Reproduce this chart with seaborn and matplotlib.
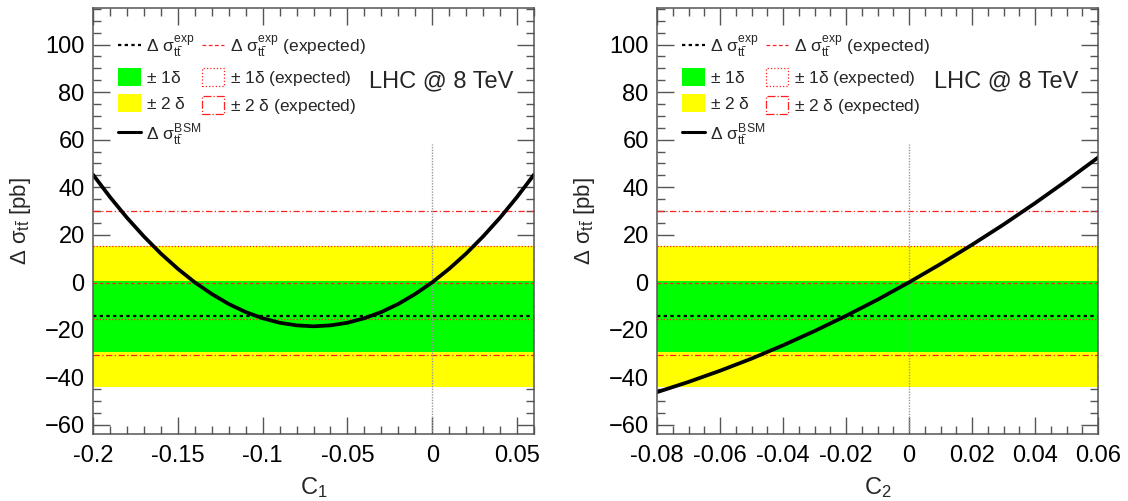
import matplotlib
matplotlib.use("Agg")
import matplotlib.pyplot as plt
import seaborn as sns
import pandas as pd
from matplotlib.lines import Line2D
from matplotlib.patches import Patch
from matplotlib.ticker import MultipleLocator

# ---------------- data ----------------
c1 = [-0.20, -0.19, -0.18, -0.17, -0.16, -0.15, -0.14, -0.13, -0.12, -0.11,
      -0.10, -0.09, -0.08, -0.07, -0.06, -0.05, -0.04, -0.03, -0.02, -0.01,
      0.00, 0.01, 0.02, 0.03, 0.04, 0.05, 0.06]
bsm1 = [45.3, 35.9, 27.2, 19.3, 12.1, 5.7, 0.0, -4.9, -9.1, -12.5,
        -15.1, -17.0, -18.1, -18.5, -18.1, -17.0, -15.1, -12.5, -9.1, -4.9,
        0.0, 5.7, 12.1, 19.3, 27.2, 35.9, 45.3]

c2 = [-0.08, -0.07, -0.06, -0.05, -0.04, -0.03, -0.02, -0.01,
      0.00, 0.01, 0.02, 0.03, 0.04, 0.05, 0.06]
bsm2 = [-46.2, -41.9, -37.2, -32.1, -26.5, -20.5, -14.1, -7.3,
        0.0, 7.7, 15.8, 24.3, 33.3, 42.7, 52.5]

obs_center = -14.3
obs_1d = [-29.5, 0.5]
obs_2d = [-44.0, 15.3]
exp_center = -0.3
exp_1d = [-15.6, 15.3]
exp_2d = [-30.6, 29.8]
vline_top = 58.0

panels = [
    dict(x=c1, y=bsm1, xlim=(-0.2, 0.06), major=0.05, minor=0.01,
         xlabel=r"$\mathrm{C_1}$", ticks=[-0.2, -0.15, -0.1, -0.05, 0, 0.05],
         ticklabels=["-0.2", "-0.15", "-0.1", "-0.05", "0", "0.05"],
         left=93, text_x=0.0476),
    dict(x=c2, y=bsm2, xlim=(-0.08, 0.06), major=0.02, minor=0.005,
         xlabel=r"$\mathrm{C_2}$",
         ticks=[-0.08, -0.06, -0.04, -0.02, 0, 0.02, 0.04, 0.06],
         ticklabels=["-0.08", "-0.06", "-0.04", "-0.02", "0", "0.02", "0.04", "0.06"],
         left=657, text_x=0.0537),
]
ylim = (-63.8, 115.4)
yticks = [-60, -40, -20, 0, 20, 40, 60, 80, 100]

# ---------------- style ----------------
sns.set_theme(style="white")
plt.rcParams["font.family"] = ["Liberation Sans", "DejaVu Sans"]
plt.rcParams["mathtext.fontset"] = "custom"
plt.rcParams["mathtext.rm"] = "Liberation Sans"
plt.rcParams["mathtext.it"] = "Liberation Sans"
plt.rcParams["mathtext.bf"] = "Liberation Sans:bold"
plt.rcParams["mathtext.sf"] = "Liberation Sans"

W, H = 1128, 501
fig = plt.figure(figsize=(W / 100, H / 100), dpi=100)
frame_col = "#555555"
red = "#ff2020"

for p in panels:
    ax = fig.add_axes([p["left"] / W, 67 / H, 441 / W, 426 / H])
    ax.set_xlim(*p["xlim"])
    ax.set_ylim(*ylim)

    # bands
    ax.axhspan(obs_2d[0], obs_2d[1], color="#ffff00", lw=0, zorder=1)
    ax.axhspan(obs_1d[0], obs_1d[1], color="#00ff00", lw=0, zorder=2)
    ax.axhline(obs_center, color="black", ls=(0, (1.5, 1.5)), lw=1.6, zorder=4)
    # expected
    ax.axhline(exp_center, color=red, ls=(0, (3, 2)), lw=0.9, zorder=3)
    for v in exp_1d:
        ax.axhline(v, color=red, ls=(0, (1, 1.5)), lw=0.9, zorder=3)
    for v in exp_2d:
        ax.axhline(v, color=red, ls=(0, (5, 2, 1, 2)), lw=0.9, zorder=3)
    ax.vlines(0, ylim[0], vline_top, colors="#999999", linestyles=(0, (1, 1)),
              lw=1.0, zorder=3)

    df = pd.DataFrame({"c": p["x"], "d": p["y"]})
    sns.lineplot(data=df, x="c", y="d", ax=ax, color="black", lw=2.7,
                 zorder=6, legend=False)

    ax.set_xticks(p["ticks"])
    ax.set_xticklabels(p["ticklabels"])
    ax.set_yticks(yticks)
    ax.xaxis.set_minor_locator(MultipleLocator(p["minor"]))
    ax.yaxis.set_minor_locator(MultipleLocator(5))
    ax.tick_params(which="both", direction="in", top=True, right=True,
                   bottom=True, left=True, color=frame_col, width=1.0,
                   labelsize=17, labelcolor="black")
    ax.tick_params(axis="x", which="major", pad=8)
    ax.tick_params(axis="y", which="major", pad=6)
    ax.tick_params(which="major", length=12)
    ax.tick_params(which="minor", length=6)
    for s in ax.spines.values():
        s.set_color(frame_col)
        s.set_linewidth(1.1)
        s.set_zorder(10)

    ax.set_xlabel(p["xlabel"], fontsize=17, labelpad=6)
    ax.set_ylabel(r"$\Delta\ \sigma_{t\bar{t}}$ [pb]", fontsize=16, labelpad=8)

    ax.text(p["text_x"], 84.6, "LHC @ 8 TeV", ha="right", va="center",
            fontsize=17, zorder=7)

    handles = [
        Line2D([], [], color="black", ls=(0, (1.5, 1.5)), lw=1.6),
        Patch(facecolor="#00ff00", edgecolor="none"),
        Patch(facecolor="#ffff00", edgecolor="none"),
        Line2D([], [], color="black", lw=2.2),
        Line2D([], [], color=red, ls=(0, (3, 2)), lw=0.9),
        Patch(facecolor="none", edgecolor=red, ls=":", lw=0.9),
        Patch(facecolor="none", edgecolor=red, ls="-.", lw=0.9),
    ]
    labels = [
        r"$\Delta\ \sigma_{t\bar{t}}^{\mathrm{exp}}$",
        r"$\pm$ 1$\delta$",
        r"$\pm$ 2 $\delta$",
        r"$\Delta\ \sigma_{t\bar{t}}^{\mathrm{BSM}}$",
        r"$\Delta\ \sigma_{t\bar{t}}^{\mathrm{exp}}$ (expected)",
        r"$\pm$ 1$\delta$ (expected)",
        r"$\pm$ 2 $\delta$ (expected)",
    ]
    leg = ax.legend(handles, labels, ncol=2, loc="upper left",
                    bbox_to_anchor=(0.041, 0.957), frameon=False, fontsize=12.5,
                    handlelength=1.3, handleheight=1.2, handletextpad=0.3,
                    columnspacing=0.05, labelspacing=0.5, borderaxespad=0)
    leg.set_zorder(8)

fig.savefig("out.png", dpi=100)
